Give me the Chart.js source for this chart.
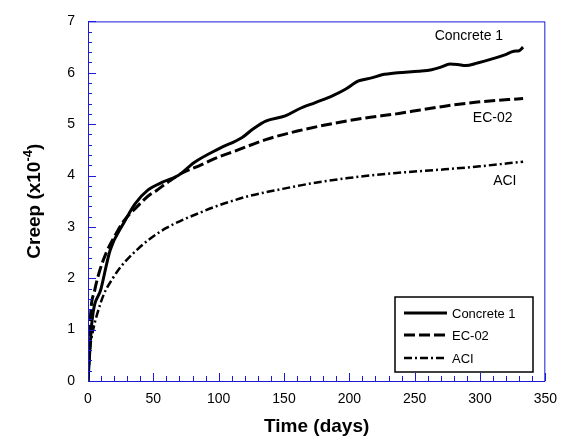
<!DOCTYPE html>
<html>
<head>
<meta charset="utf-8">
<script src="https://cdn.jsdelivr.net/npm/chart.js@4/dist/chart.umd.min.js"></script>
<style>
  html,body{margin:0;padding:0;background:#fff;}
  #wrap{width:567px;height:439px;}
</style>
</head>
<body>
<div id="wrap"><canvas id="chart" width="567" height="439"></canvas></div>
<script>
// DATA (days, creep x10^-4)
const concreteDays = [0,3,10,17,27,36,46,57,69,81,100,118,126,136,151,161,174,187,197,207,217,225,237,253,263,270,277,283,289,298,308,319,326,330,333];
const concreteVals = [0,1.15,1.8,2.55,3.06,3.45,3.72,3.87,4.0,4.25,4.52,4.74,4.9,5.06,5.16,5.29,5.42,5.55,5.68,5.84,5.9,5.96,6.0,6.03,6.06,6.11,6.17,6.16,6.14,6.19,6.26,6.35,6.42,6.43,6.5];

const ecDays = [0,2,5,9,14,20,27,37,47,52,60,72,85,100,113,136,161,187,212,236,248,273,298,333];
const ecVals = [0,1.3,1.75,2.15,2.5,2.8,3.1,3.38,3.62,3.7,3.85,4.05,4.19,4.36,4.48,4.7,4.87,5.01,5.12,5.2,5.25,5.35,5.43,5.5];

const aciDays = [0,1.5,4,7,12,19,25,34,47,60,72,85,98,111,123,149,161,174,199,212,236,273,300,333];
const aciVals = [0,0.6,1.0,1.3,1.68,2.0,2.22,2.47,2.76,2.98,3.13,3.27,3.4,3.51,3.6,3.74,3.8,3.86,3.95,3.99,4.05,4.12,4.18,4.27];

const seriesNames = ["Concrete 1","EC-02","ACI"];
// curve labels placed at data coordinates
const labelDays = [291.5,309.7,319];
const labelVals = [6.71,5.12,3.9];

const FONT = "'Liberation Sans', Arial, Helvetica, sans-serif";
const BLUE = "#1a1ad8";

function pts(xs,ys){ return xs.map((x,i)=>({x:x,y:ys[i]})); }

// frame, inward ticks, labels, legend
const decor = {
  id:"decor",
  afterDraw(c){
    const ctx=c.ctx, a=c.chartArea, xs=c.scales.x, ys=c.scales.y;
    ctx.save();
    // blue frame
    ctx.strokeStyle=BLUE; ctx.lineWidth=1;
    ctx.strokeRect(a.left+0.5,a.top+0.5,a.right-a.left-1,a.bottom-a.top);
    // x ticks
    ctx.beginPath();
    for(let d=0; d<=350; d+=10){
      let px=Math.round(xs.getPixelForValue(d))+0.5;
      let len=(d%50===0)?8:5;
      ctx.moveTo(px,a.bottom); ctx.lineTo(px,a.bottom-len);
    }
    // y ticks
    for(let k=0; k<=35; k++){
      let v=k*0.2;
      let py=Math.round(ys.getPixelForValue(v))+0.5;
      let len=(k%5===0)?8:4;
      ctx.moveTo(a.left,py); ctx.lineTo(a.left+len,py);
    }
    ctx.stroke();

    // curve labels
    ctx.fillStyle="#000"; ctx.font="14px "+FONT;
    ctx.textAlign="center"; ctx.textBaseline="middle";
    seriesNames.forEach((n,i)=>{
      ctx.fillText(n, xs.getPixelForValue(labelDays[i]), ys.getPixelForValue(labelVals[i]));
    });

    // legend box
    const lx=395, ly=297, lw=138, lh=75;
    ctx.fillStyle="#fff"; ctx.fillRect(lx,ly,lw,lh);
    ctx.strokeStyle="#000"; ctx.lineWidth=1.5;
    ctx.strokeRect(lx,ly,lw,lh);
    const rows=[313,335,358];
    c.data.datasets.forEach((ds,i)=>{
      ctx.beginPath();
      ctx.setLineDash(ds.borderDash||[]);
      ctx.lineWidth=ds.borderWidth;
      ctx.strokeStyle="#000";
      ctx.moveTo(404,rows[i]); ctx.lineTo(447,rows[i]);
      ctx.stroke();
      ctx.setLineDash([]);
      ctx.fillStyle="#000"; ctx.font="13px "+FONT;
      ctx.textAlign="left"; ctx.textBaseline="middle";
      ctx.fillText(ds.label,452,rows[i]+1);
    });

    // axis titles
    ctx.fillStyle="#000";
    ctx.font="bold 19px "+FONT;
    ctx.textAlign="center"; ctx.textBaseline="middle";
    ctx.fillText("Time (days)",(a.left+a.right)/2,427);

    ctx.translate(35,(a.top+a.bottom)/2);
    ctx.rotate(-Math.PI/2);
    const p1="Creep (x10", sup="-4", p2=")";
    ctx.font="bold 19px "+FONT; const w1=ctx.measureText(p1).width, w3=ctx.measureText(p2).width;
    ctx.font="bold 13px "+FONT; const w2=ctx.measureText(sup).width;
    let x0=-(w1+w2+w3)/2;
    ctx.textAlign="left";
    ctx.font="bold 19px "+FONT; ctx.fillText(p1,x0,0);
    ctx.font="bold 13px "+FONT; ctx.fillText(sup,x0+w1,-7);
    ctx.font="bold 19px "+FONT; ctx.fillText(p2,x0+w1+w2,0);
    ctx.restore();
  }
};

new Chart(document.getElementById("chart"),{
  type:"line",
  data:{
    datasets:[
      {label:seriesNames[0],data:pts(concreteDays,concreteVals),borderColor:"#000",borderWidth:3,pointRadius:0,cubicInterpolationMode:"monotone",fill:false},
      {label:seriesNames[1],data:pts(ecDays,ecVals),borderColor:"#000",borderWidth:3,borderDash:[11,4],pointRadius:0,cubicInterpolationMode:"monotone",fill:false},
      {label:seriesNames[2],data:pts(aciDays,aciVals),borderColor:"#000",borderWidth:2.5,borderDash:[8,3,2,3],pointRadius:0,cubicInterpolationMode:"monotone",fill:false}
    ]
  },
  options:{
    responsive:false,
    animation:false,
    layout:{padding:{top:20,right:19,left:0,bottom:0}},
    plugins:{legend:{display:false},tooltip:{enabled:false}},
    scales:{
      x:{
        type:"linear",min:0,max:350,
        border:{display:false},
        grid:{display:false,drawTicks:false},
        ticks:{stepSize:50,color:"#000",font:{family:FONT,size:14},padding:10,maxRotation:0},
        afterFit(s){s.height=58;}
      },
      y:{
        min:0,max:7,
        border:{display:false},
        grid:{display:false,drawTicks:false},
        ticks:{stepSize:1,color:"#000",font:{family:FONT,size:14},padding:13},
        afterFit(s){s.width=88;}
      }
    }
  },
  plugins:[decor]
});
</script>
</body>
</html>
